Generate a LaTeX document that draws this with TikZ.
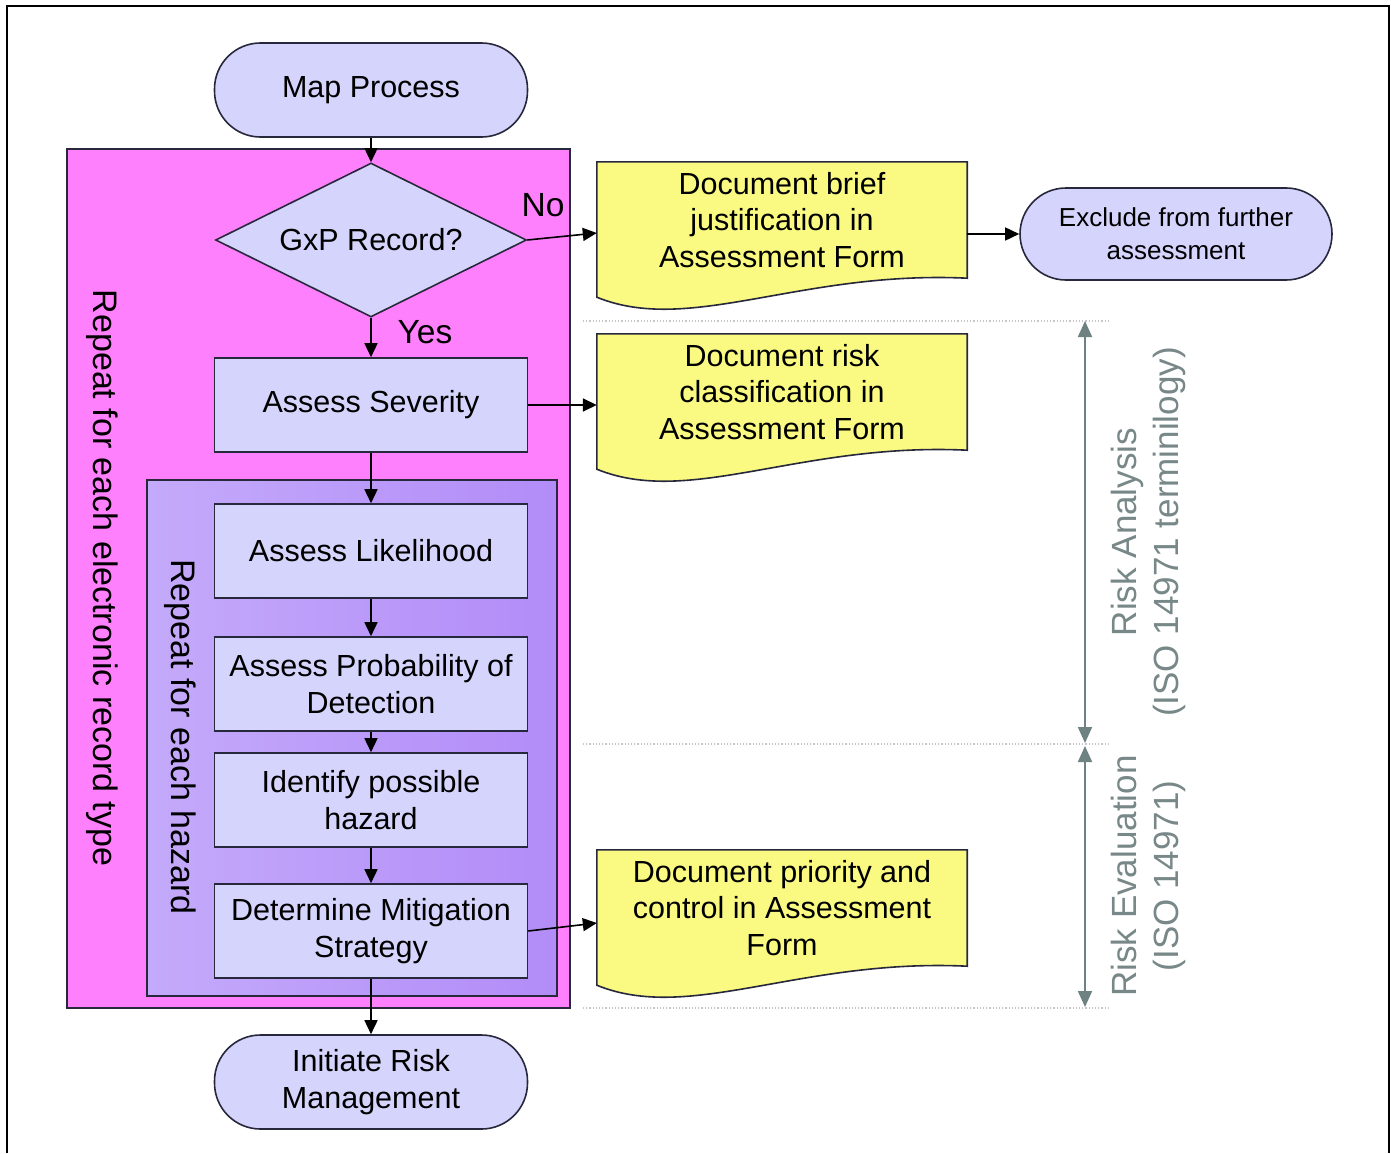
\documentclass[tikz,border=0pt]{standalone}
\usepackage{fontspec}
\setmainfont{Liberation Sans}
\usetikzlibrary{shapes.geometric,arrows.meta,calc,backgrounds}
\pgfdeclarelayer{bottom}
\pgfsetlayers{bottom,background,main}
\definecolor{lav}{RGB}{212,212,252}
\definecolor{pinkbg}{RGB}{255,128,252}
\definecolor{purpA}{RGB}{196,170,250}
\definecolor{purpB}{RGB}{178,140,248}
\definecolor{docyel}{RGB}{250,250,130}
\definecolor{edge}{RGB}{40,40,60}
\definecolor{grayarr}{RGB}{110,130,130}
\definecolor{graytxt}{RGB}{120,135,135}
\newcommand\mainf{\fontsize{30.5}{36.5}\selectfont}
\newcommand\mydocshape[1]{%
  \begin{pgfonlayer}{background}
  \draw[docline] (#1.north west) -- (#1.north east) -- (#1.south east)
    .. controls ($(#1.south east)+(-167,-8)$) and ($(#1.south west)+(93,57)$) ..
    ($(#1.south west)+(0,19)$) -- cycle;
  \end{pgfonlayer}}
\begin{document}
\begin{tikzpicture}[x=1pt,y=-1pt,
  proc/.style={draw=edge, line width=1.6pt, fill=lav, minimum width=313pt,
    minimum height=94pt, align=center, font=\mainf, inner sep=0pt},
  term/.style={proc, rounded corners=46pt},
  dec/.style={draw=edge, line width=1.6pt, fill=lav, diamond, shape aspect=2,
    minimum width=311pt, minimum height=154pt, inner sep=0pt, font=\mainf},
  docu/.style={minimum width=370pt, minimum height=116pt, align=center,
    font=\mainf, inner sep=0pt},
  docline/.style={draw=edge, line width=1.6pt, fill=docyel},
  arr/.style={-{Triangle[length=14pt,width=13pt]}, line width=1.6pt, draw=black},
  garr/.style={{Triangle[length=16pt,width=14pt]}-{Triangle[length=16pt,width=14pt]},
    line width=1.8pt, draw=grayarr},
  dotl/.style={draw=gray!45, dotted, line width=1.2pt},
  biglabel/.style={font=\fontsize{34}{40}\selectfont, inner sep=0pt},
  sidelabel/.style={font=\fontsize{35}{42}\selectfont, text=graytxt, align=center, inner sep=0pt},
  yn/.style={font=\fontsize{33.5}{40}\selectfont, inner sep=0pt}
]
\useasboundingbox (0,0) rectangle (1391,1153);
\begin{pgfonlayer}{bottom}
  \fill[white] (0,0) rectangle (1391,1153);
\end{pgfonlayer}
% outer frame
\draw[line width=1.5pt, black] (7,1153) -- (7,6) -- (1389,6) -- (1389,1153);

% loop containers
\draw[draw=edge, line width=1.6pt, fill=pinkbg] (67,149) rectangle (570,1008);
\draw[draw=edge, line width=1.6pt, left color=purpA, right color=purpB] (147,480) rectangle (557,996);
\node[biglabel, rotate=-90] (outerlbl) at (102,578) {Repeat for each electronic record type};
\node[biglabel, rotate=-90] (innerlbl) at (180,737) {Repeat for each hazard};

% main flow
\node[term] (map) at (371,90) {Map Process};
\node[dec] (gxp) at (371,240) {GxP Record?};
\node[proc] (sev) at (371,405) {Assess Severity};
\node[proc] (lik) at (371,551) {Assess Likelihood};
\node[proc] (prob) at (371,684) {Assess Probability of\\Detection};
\node[proc] (haz) at (371,800) {Identify possible\\hazard};
\node[proc] (mit) at (371,931) {Determine Mitigation\\Strategy};
\node[term] (init) at (371,1082) {Initiate Risk\\Management};

% documents
\node[docu] (doc1) at (782,220) {Document brief\\justification in\\Assessment Form};
\mydocshape{doc1}
\node[docu] (doc2) at (782,392) {Document risk\\classification in\\Assessment Form};
\mydocshape{doc2}
\node[docu] (doc3) at (782,908) {Document priority and\\control in Assessment\\Form};
\mydocshape{doc3}

\node[term, minimum width=312pt, minimum height=92pt,
  font=\fontsize{26}{33}\selectfont] (exc) at (1176,234) {Exclude from further\\assessment};

% labels
\node[yn] (no) at (543,205) {No};
\node[yn] (yes) at (425,332) {Yes};

% connectors
\draw[arr] (map) -- (gxp);
\draw[arr] (gxp) -- (sev);
\draw[arr] (sev) -- (lik);
\draw[arr] (lik) -- (prob);
\draw[arr] (prob) -- (haz);
\draw[arr] (haz) -- (mit);
\draw[arr] (mit) -- (init);
\draw[arr] (gxp.east) -- ($(doc1.west)+(0,13)$);
\draw[arr] (sev.east) -- (sev.east -| doc2.west);
\draw[arr] (mit.east) -- ($(doc3.west)+(0,15)$);
\draw[arr] (exc.west -| doc1.east) -- (exc.west);

% ISO bands
\coordinate (l1a) at (583,321);
\coordinate (l1b) at (1110,321);
\coordinate (l2a) at (583,744);
\coordinate (l2b) at (1110,744);
\coordinate (l3a) at (583,1008);
\coordinate (l3b) at (1110,1008);
\draw[dotl] (l1a) -- (l1b);
\draw[dotl] (l2a) -- (l2b);
\draw[dotl] (l3a) -- (l3b);
\coordinate (ra1) at (1085,321);
\coordinate (ra2) at (1085,743);
\coordinate (re1) at (1085,746);
\coordinate (re2) at (1085,1007);
\draw[garr] (ra1) -- (ra2);
\draw[garr] (re1) -- (re2);
\node[sidelabel, rotate=90] (ralbl) at (1148,532) {Risk Analysis\\(ISO 14971 terminilogy)};
\node[sidelabel, rotate=90] (relbl) at (1148,876) {Risk Evaluation\\(ISO 14971)};
\end{tikzpicture}
\end{document}
